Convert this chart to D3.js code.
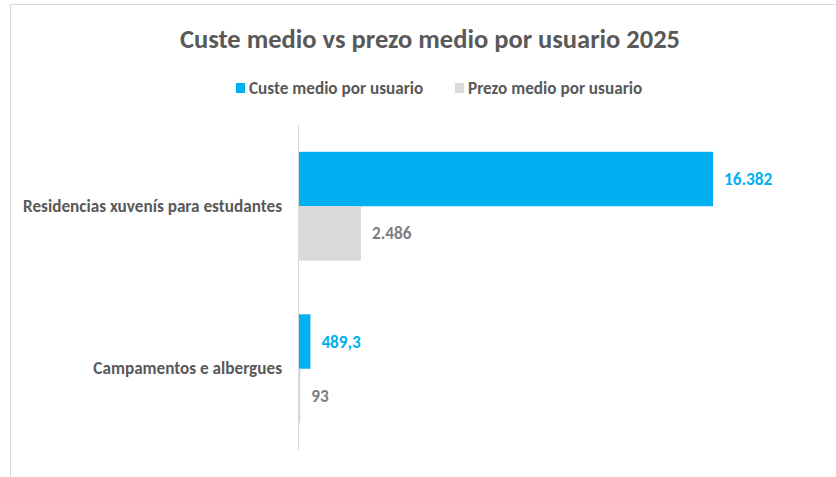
<!DOCTYPE html>
<html>
<head>
<meta charset="utf-8">
<script src="https://cdn.jsdelivr.net/npm/d3@7"></script>
<style>
  body { margin: 0; background: #fff; }
  text { font-family: Carlito, "Open Sans", sans-serif; font-weight: bold; }
</style>
</head>
<body>
<svg id="chart"></svg>
<script>
const categories = ['Residencias xuvenís para estudantes', 'Campamentos e albergues'];
const seriesNames = ['Custe medio por usuario', 'Prezo medio por usuario'];
const custeMedio = [16382, 489.3];
const prezoMedio = [2486, 93];
const colors = ['#00b0f0', '#d9d9d9'];
const labelColors = ['#00b0f0', '#7f7f7f'];

const width = 836, height = 477;
const svg = d3.select('#chart').attr('width', width).attr('height', height);

// frame of the chart area (right and bottom edges are cut off)
svg.append('rect')
  .attr('x', 10.5).attr('y', 4.5)
  .attr('width', width + 10).attr('height', height + 10)
  .attr('fill', 'none').attr('stroke', '#d9d9d9');

// title
svg.append('text')
  .attr('x', 430).attr('y', 48)
  .attr('text-anchor', 'middle')
  .attr('font-size', 26.5)
  .attr('fill', '#595959')
  .text('Custe medio vs prezo medio por usuario 2025');

// legend
const legend = svg.append('g').attr('transform', 'translate(236, 88)');
const legendX = [0, 219];
seriesNames.forEach((name, i) => {
  const g = legend.append('g').attr('transform', `translate(${legendX[i]}, 0)`);
  g.append('rect').attr('x', 0).attr('y', -5).attr('width', 9).attr('height', 10).attr('fill', colors[i]);
  g.append('text').attr('x', 13).attr('y', 6).attr('font-size', 17.2).attr('fill', '#595959').text(name);
});

// scales
const plot = { left: 298, right: 754, top: 125, bottom: 450 };
const y0 = d3.scaleBand().domain(categories).range([plot.top, plot.bottom]).paddingInner(0.33).paddingOuter(0.165);
const y1 = d3.scaleBand().domain(seriesNames).range([0, y0.bandwidth()]);
const x = d3.scaleLinear().domain([0, 18000]).range([plot.left, plot.right]);

const rows = categories.map((c, i) => ({ cat: c, values: [custeMedio[i], prezoMedio[i]] }));

const gl = d3.formatLocale({ decimal: ',', thousands: '.', grouping: [3], currency: ['', ' €'] });
const fmt = v => (v % 1 ? gl.format(',.1f')(v) : gl.format(',d')(v));

// bars
const groups = svg.selectAll('.cat').data(rows).enter().append('g')
  .attr('class', 'cat')
  .attr('transform', d => `translate(0, ${y0(d.cat)})`);

groups.selectAll('rect').data(d => d.values.map((v, i) => ({ v, i }))).enter().append('rect')
  .attr('x', x(0))
  .attr('y', d => y1(seriesNames[d.i]))
  .attr('width', d => x(d.v) - x(0))
  .attr('height', y1.bandwidth())
  .attr('fill', d => colors[d.i]);

groups.selectAll('text.lbl').data(d => d.values.map((v, i) => ({ v, i }))).enter().append('text')
  .attr('class', 'lbl')
  .attr('x', d => x(d.v) + 11)
  .attr('y', d => y1(seriesNames[d.i]) + y1.bandwidth() / 2 + 6)
  .attr('font-size', 17.2)
  .attr('fill', d => labelColors[d.i])
  .text(d => fmt(d.v));

// category axis
const axis = svg.append('g')
  .attr('transform', `translate(${plot.left}, 0)`)
  .call(d3.axisLeft(y0).tickSize(0).tickPadding(16));
axis.select('.domain').attr('stroke', '#d9d9d9').attr('d', `M0.5,${plot.top}V${plot.bottom}`);
axis.selectAll('text')
  .attr('font-size', 17.2)
  .attr('fill', '#595959')
  .style('font-family', 'Carlito, "Open Sans", sans-serif')
  .style('font-weight', 'bold');
</script>
</body>
</html>
